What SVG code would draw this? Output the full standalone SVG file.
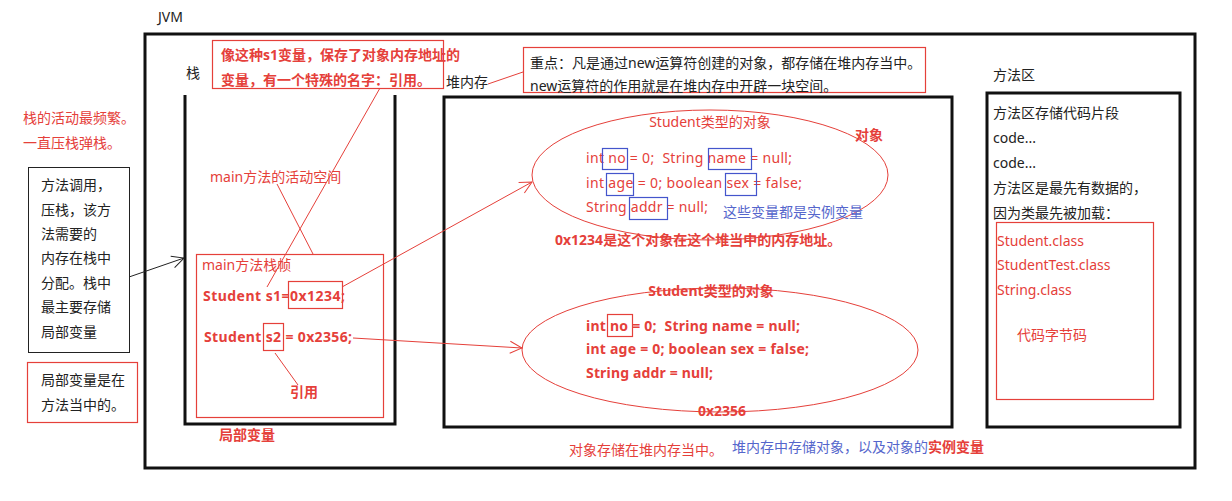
<svg xmlns="http://www.w3.org/2000/svg" width="1232" height="501" viewBox="0 0 1232 501">
<style>
text{font-family:"Noto Sans","Noto Sans CJK SC",sans-serif;font-size:14px}
.k{fill:#222}
.r{fill:#e5403a}
.rb{fill:#e5403a;font-weight:bold}
.b{fill:#5566cc}
.thick{fill:none;stroke:#111;stroke-width:3}
.rbox{fill:none;stroke:#e5403a;stroke-width:1.2}
.bbox{fill:none;stroke:#4455cc;stroke-width:1.2}
.rl{fill:none;stroke:#e5403a;stroke-width:1}
.kl{fill:none;stroke:#222;stroke-width:1}
</style>
<defs>
<marker id="ar" markerWidth="14" markerHeight="14" refX="13" refY="7" orient="auto" markerUnits="userSpaceOnUse"><path d="M1,1 L13,7 L1,13" fill="none" stroke="#e5403a" stroke-width="1"/></marker>
<marker id="ak" markerWidth="14" markerHeight="14" refX="13" refY="7" orient="auto" markerUnits="userSpaceOnUse"><path d="M1,1 L13,7 L1,13" fill="none" stroke="#222" stroke-width="1"/></marker>
</defs>
<rect width="1232" height="501" fill="#fff"/>

<g id="jvm">
<text x="158" y="22" class="k">JVM</text>
<rect x="145" y="34" width="1050" height="434" class="thick"/>
</g>

<g id="left-notes">
<text x="23" y="123" class="r">栈的活动最频繁。</text>
<text x="23" y="148" class="r">一直压栈弹栈。</text>
</g>
<g id="call-box">
<rect x="28.5" y="167.5" width="101" height="185" class="kl"/>
<text x="41" y="190" class="k">方法调用，</text>
<text x="41" y="215" class="k">压栈，该方</text>
<text x="41" y="239" class="k">法需要的</text>
<text x="41" y="263" class="k">内存在栈中</text>
<text x="41" y="288" class="k">分配。栈中</text>
<text x="41" y="312" class="k">最主要存储</text>
<text x="41" y="337" class="k">局部变量</text>
</g>
<g id="local-box">
<rect x="27.5" y="362.5" width="110" height="60" class="rbox"/>
<text x="41" y="385" class="k">局部变量是在</text>
<text x="41" y="410" class="k">方法当中的。</text>
</g>

<g id="stack">
<text x="186" y="78" class="k">栈</text>
<path d="M185,95 V424 H395 V95" class="thick"/>
<text x="219" y="440" class="rb">局部变量</text>
</g>
<g id="ref-note">
<rect x="212.5" y="40.5" width="231" height="48" fill="#fff" class="rbox"/>
<text x="221" y="60" class="rb">像这种s1变量，保存了对象内存地址的</text>
<text x="221" y="85" class="rb">变量，有一个特殊的名字：引用。</text>
</g>
<g id="main-space">
<text x="210" y="182" class="r">main方法的活动空间</text>
</g>
<g id="frame">
<rect x="196.5" y="254.5" width="187" height="163" class="rbox"/>
<text x="202" y="270" class="r">main方法栈帧</text>
<text x="203" y="301" class="rb" textLength="142" lengthAdjust="spacing">Student s1=0x1234;</text>
<rect x="288.5" y="281.5" width="54" height="27" class="rbox"/>
<text x="204" y="342" class="rb" textLength="148" lengthAdjust="spacing">Student s2 = 0x2356;</text>
<rect x="263.5" y="323.5" width="20" height="27" class="rbox"/>
<text x="290" y="397" class="rb">引用</text>
</g>

<g id="heap">
<text x="446" y="87" class="k">堆内存</text>
<rect x="444" y="97" width="508" height="330" class="thick"/>
</g>
<g id="heap-note">
<rect x="523.5" y="47.5" width="402" height="45" class="rbox"/>
<text x="530" y="68" class="k">重点：凡是通过new运算符创建的对象，都存储在堆内存当中。</text>
<text x="530" y="91" class="k">new运算符的作用就是在堆内存中开辟一块空间。</text>
</g>
<g id="object1">
<ellipse cx="710" cy="175" rx="178" ry="65" class="rl"/>
<text x="710" y="127" class="r" text-anchor="middle">Student类型的对象</text>
<text x="855" y="140" class="rb">对象</text>
<text x="586" y="163" class="r" xml:space="preserve" textLength="206" lengthAdjust="spacing">int no = 0;  String name = null;</text>
<text x="586" y="188" class="r" textLength="216" lengthAdjust="spacing">int age = 0; boolean sex = false;</text>
<text x="586" y="212" class="r" textLength="122" lengthAdjust="spacing">String addr = null;</text>
<rect x="602.5" y="148.5" width="25" height="21" class="bbox"/>
<rect x="708.5" y="148.5" width="43" height="21" class="bbox"/>
<rect x="606.5" y="173.5" width="27" height="22" class="bbox"/>
<rect x="725.5" y="173.5" width="31" height="22" class="bbox"/>
<rect x="629.5" y="197.5" width="38" height="22" class="bbox"/>
<text x="723" y="217" class="b">这些变量都是实例变量</text>
<text x="555" y="245" class="rb">0x1234是这个对象在这个堆当中的内存地址。</text>
</g>
<g id="object2">
<ellipse cx="720" cy="350" rx="198" ry="62" class="rl"/>
<text x="711" y="296" class="rb" text-anchor="middle">Student类型的对象</text>
<text x="586" y="331" class="rb" xml:space="preserve" textLength="214" lengthAdjust="spacing">int no = 0;  String name = null;</text>
<text x="586" y="354" class="rb" textLength="223" lengthAdjust="spacing">int age = 0; boolean sex = false;</text>
<text x="586" y="378" class="rb" textLength="127" lengthAdjust="spacing">String addr = null;</text>
<rect x="607.5" y="314.5" width="25" height="22" class="rbox"/>
<text x="722" y="416" class="rb" text-anchor="middle">0x2356</text>
</g>
<g id="bottom-notes">
<text x="569" y="455" class="r">对象存储在堆内存当中。</text>
<text x="732" y="452" class="b">堆内存中存储对象，以及对象的<tspan class="rb">实例变量</tspan></text>
</g>

<g id="method-area">
<text x="993" y="80" class="k">方法区</text>
<rect x="987" y="93" width="193" height="334" class="thick"/>
<text x="993" y="118" class="k">方法区存储代码片段</text>
<text x="993" y="143" class="k">code...</text>
<text x="993" y="168" class="k">code...</text>
<text x="993" y="193" class="k">方法区是最先有数据的，</text>
<text x="993" y="218" class="k">因为类最先被加载：</text>
<rect x="996.5" y="222.5" width="157" height="177" class="rbox"/>
<text x="997" y="246" class="r">Student.class</text>
<text x="997" y="270" class="r">StudentTest.class</text>
<text x="997" y="295" class="r">String.class</text>
<text x="1017" y="340" class="r">代码字节码</text>
</g>

<g id="connectors">
<path d="M129,277 L184,258" class="kl" marker-end="url(#ak)"/>
<path d="M380,88 L267,287" class="rl"/>
<path d="M277,184 L313,254" class="rl"/>
<path d="M298,385 L275,353" class="rl"/>
<path d="M342,287 L532,182" class="rl" marker-end="url(#ar)"/>
<path d="M353,338 L522,348" class="rl" marker-end="url(#ar)"/>
<path d="M488,84 L523,72" class="rl"/>
</g>
</svg>
